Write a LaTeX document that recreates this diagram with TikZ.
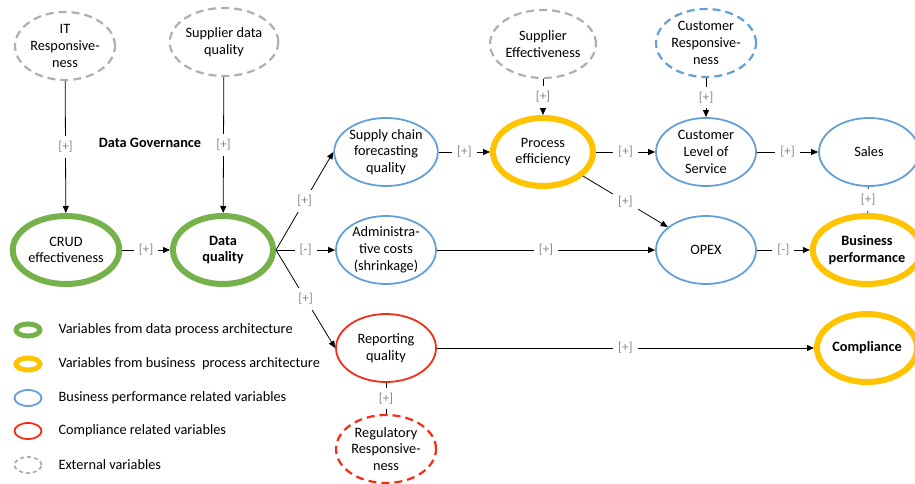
\documentclass[tikz,border=0pt]{standalone}
\usepackage{fontspec}
\setmainfont{Carlito}
\usetikzlibrary{shapes.geometric,arrows.meta}
\definecolor{cgreen}{RGB}{117,178,76}
\definecolor{cyellow}{RGB}{255,195,0}
\definecolor{cblue}{RGB}{100,160,215}
\definecolor{cred}{RGB}{245,45,20}
\definecolor{cgray}{RGB}{175,175,175}
\definecolor{lblgray}{RGB}{135,135,135}
\begin{document}
\begin{tikzpicture}[x=1pt,y=-1pt,
  var/.style={ellipse, inner sep=0pt, minimum width=100pt, minimum height=68pt, align=center, font=\fontsize{14.3}{16.8}\selectfont},
  boldvar/.style={font=\fontsize{14.3}{16.8}\selectfont\bfseries},
  dataV/.style={var, draw=cgreen, line width=6pt},
  busV/.style={var, draw=cyellow, line width=6pt},
  perfV/.style={var, draw=cblue, line width=1.8pt},
  compV/.style={var, draw=cred, line width=1.8pt},
  extV/.style={var, draw=cgray, line width=2.2pt, dash pattern=on 8pt off 5pt},
  extBlue/.style={var, draw=cblue, line width=2.2pt, dash pattern=on 8pt off 5pt},
  extRed/.style={var, draw=cred, line width=2.2pt, dash pattern=on 8pt off 5pt},
  conn/.style={draw=black, line width=0.8pt, -{Triangle[length=7pt,width=6pt]}},
  plainconn/.style={draw=black, line width=0.8pt},
  lbl/.style={fill=white, text=lblgray, inner sep=5pt, font=\fontsize{13}{15}\selectfont},
  lgtext/.style={anchor=west, font=\fontsize{14.3}{16}\selectfont},
  lgdata/.style={ellipse, inner sep=0pt, minimum width=24pt, minimum height=12pt, draw=cgreen, line width=5pt},
  lgbus/.style={ellipse, inner sep=0pt, minimum width=24pt, minimum height=12pt, draw=cyellow, line width=5pt},
  lgperf/.style={ellipse, inner sep=0pt, minimum width=27pt, minimum height=16pt, draw=cblue, line width=1.8pt},
  lgcomp/.style={ellipse, inner sep=0pt, minimum width=27pt, minimum height=16pt, draw=cred, line width=1.8pt},
  lgext/.style={ellipse, inner sep=0pt, minimum width=27pt, minimum height=16pt, draw=cgray, line width=1.8pt, dash pattern=on 4pt off 3pt}
]
\useasboundingbox (0,0) rectangle (915,484);

% nodes
\node[extV] (it) at (65,46) {IT\\Responsive-\\ness};
\node[extV] (sdq) at (224,42) {Supplier data\\quality};
\node[dataV] (crud) at (66,250) {CRUD\\effectiveness};
\node[dataV, boldvar] (dq) at (223,250) {Data\\quality};
\node[boldvar] (gov) at (150,143) {Data Governance};
\node[perfV] (sc) at (386,152) {Supply chain\\forecasting\\quality};
\node[busV] (pe) at (543,152) {Process\\efficiency};
\node[extV] (se) at (543,44) {Supplier\\Effectiveness};
\node[extBlue] (cr) at (706,43) {Customer\\Responsive-\\ness};
\node[perfV] (cls) at (706,152) {Customer\\Level of\\Service};
\node[perfV] (sales) at (869,152) {Sales};
\node[perfV] (adm) at (386,250) {Administra-\\tive costs\\(shrinkage)};
\node[perfV] (opex) at (706,250) {OPEX};
\node[busV, boldvar] (bp) at (867,250) {Business\\performance};
\node[compV] (rq) at (386,348) {Reporting\\quality};
\node[extRed] (rr) at (386,449) {Regulatory\\Responsive-\\ness};
\node[busV, boldvar] (comp) at (867,348) {Compliance};

% connectors
\draw[conn] (it) -- node[lbl]{[+]} (crud);
\draw[conn] (sdq) -- node[lbl]{[+]} (dq);
\draw[conn] (crud) -- node[lbl]{[+]} (dq);
\draw[conn] (dq.east) -- node[lbl]{[+]} (sc.west);
\draw[conn] (dq.east) -- node[lbl]{[-]} (adm.west);
\draw[conn] (dq.east) -- node[lbl]{[+]} (rq.west);
\draw[conn] (sc) -- node[lbl]{[+]} (pe);
\draw[conn] (se) -- node[lbl]{[+]} (pe);
\draw[conn] (pe) -- node[lbl]{[+]} (cls);
\draw[conn] (pe) -- node[lbl]{[+]} (opex);
\draw[conn] (cr) -- node[lbl]{[+]} (cls);
\draw[conn] (cls) -- node[lbl]{[+]} (sales);
\draw[plainconn] (sales) -- node[lbl]{[+]} (bp);
\draw[conn] (adm) -- node[lbl]{[+]} (opex);
\draw[conn] (opex) -- node[lbl]{[-]} (bp);
\draw[conn] (rq) -- node[lbl]{[+]} (comp);
\draw[plainconn] (rr) -- node[lbl]{[+]} (rq);

% legend
\node[lgdata] (l1) at (28,330) {};
\node[lgtext] (t1) at (55,330) {Variables from data process architecture};
\node[lgbus] (l2) at (28,364) {};
\node[lgtext] (t2) at (55,364) {Variables from business\ \ process architecture};
\node[lgperf] (l3) at (28,398) {};
\node[lgtext] (t3) at (55,398) {Business performance related variables};
\node[lgcomp] (l4) at (28,431) {};
\node[lgtext] (t4) at (55,431) {Compliance related variables};
\node[lgext] (l5) at (28,465) {};
\node[lgtext] (t5) at (55,465) {External variables};
\end{tikzpicture}
\end{document}
